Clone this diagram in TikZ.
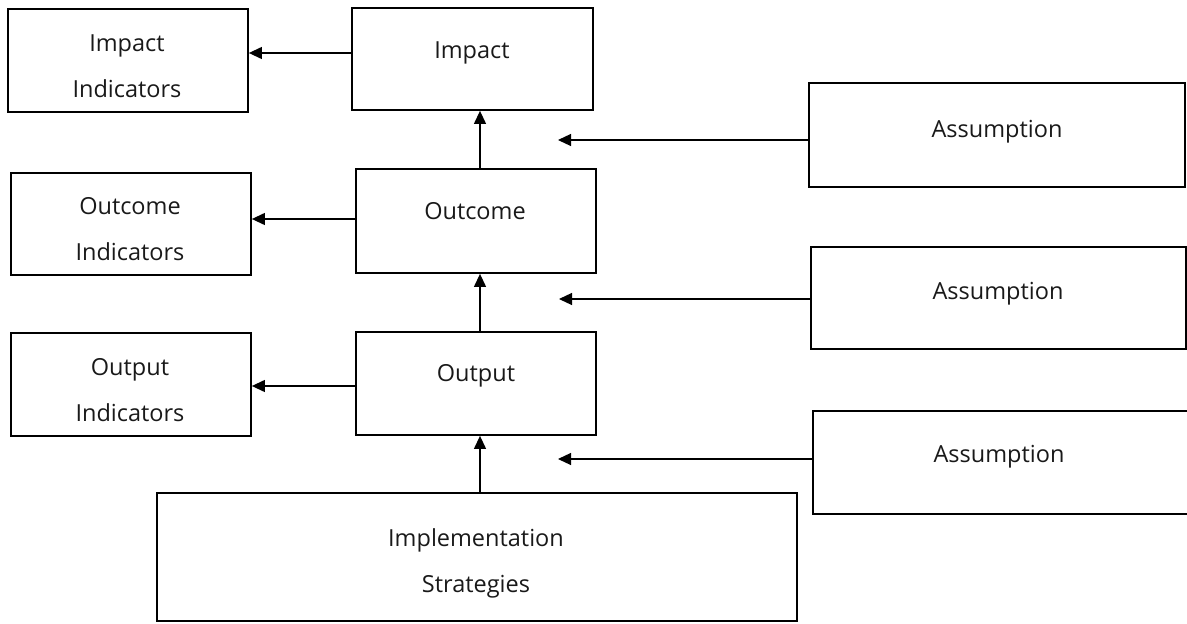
\documentclass[tikz,border=0pt]{standalone}
\usepackage{fontspec}
\setmainfont{Open Sans}
\usetikzlibrary{arrows.meta}
\begin{document}
\begin{tikzpicture}[x=1pt,y=-1pt,
  box/.style={draw=black,line width=1.8pt,inner sep=0pt},
  txt/.style={anchor=base,inner sep=0pt,font=\fontsize{23.5}{28}\selectfont,text=black!90},
  arr/.style={line width=1.2pt,-{Triangle[length=13pt,width=12pt]}}]
\useasboundingbox (0,0) rectangle (1187,624);
\newcommand{\bx}[5]{\node[box,minimum width={#4-#2},minimum height={#5-#3}] (#1) at ({(#2+#4)/2},{(#3+#5)/2}) {};}
% boxes
\bx{impind}{8}{9}{248}{112}
\bx{impact}{352}{8}{593}{110}
\bx{outind}{11}{173}{251}{275}
\bx{outcome}{356}{169}{596}{273}
\bx{outpind}{11}{333}{251}{436}
\bx{output}{356}{332}{596}{435}
\bx{impl}{157}{493}{797}{621}
\bx{asa}{809}{83}{1185}{187}
\bx{asb}{811}{247}{1186}{349}
\bx{asc}{813}{411}{1194}{514}
% texts
\node[txt] (timpind1) at (127,51) {Impact};
\node[txt] (timpind2) at (127,97) {Indicators};
\node[txt] (timpact) at (472,58) {Impact};
\node[txt] (toutind1) at (130,214) {Outcome};
\node[txt] (toutind2) at (130,260) {Indicators};
\node[txt] (toutcome) at (475,219) {Outcome};
\node[txt] (toutpind1) at (130,375) {Output};
\node[txt] (toutpind2) at (130,421) {Indicators};
\node[txt] (toutput) at (476,381) {Output};
\node[txt] (timpl1) at (476,546) {Implementation};
\node[txt] (timpl2) at (476,592) {Strategies};
\node[txt] (tasa) at (997,137) {Assumption};
\node[txt] (tasb) at (998,299) {Assumption};
\node[txt] (tasc) at (999,462) {Assumption};
% horizontal arrows to indicators
\draw[arr] (impact.west |- 0,53) -- (impind.east |- 0,53);
\draw[arr] (outcome.west |- 0,219) -- (outind.east |- 0,219);
\draw[arr] (output.west |- 0,386) -- (outpind.east |- 0,386);
% vertical arrows
\draw[arr] (outcome.north -| 480,0) -- (impact.south -| 480,0);
\draw[arr] (output.north -| 480,0) -- (outcome.south -| 480,0);
\draw[arr] (impl.north -| 480,0) -- (output.south -| 480,0);
% assumption arrows
\coordinate (ta) at (558,140);
\coordinate (tb) at (559,299);
\coordinate (tc) at (558,459);
\draw[arr] (asa.west |- ta) -- (ta);
\draw[arr] (asb.west |- tb) -- (tb);
\draw[arr] (asc.west |- tc) -- (tc);
\end{tikzpicture}
\end{document}
